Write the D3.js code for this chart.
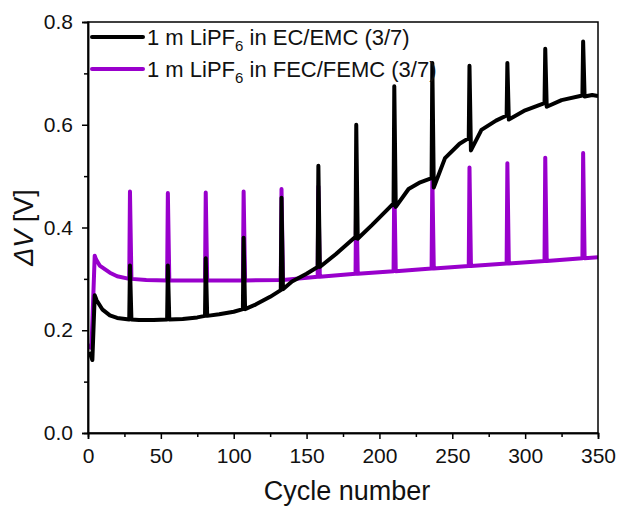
<!DOCTYPE html>
<html>
<head>
<meta charset="utf-8">
<script src="https://cdn.jsdelivr.net/npm/d3@7"></script>
<style>
  html, body { margin: 0; padding: 0; background: #fff; }
  svg { display: block; font-family: "Liberation Sans", Arial, sans-serif; }
</style>
</head>
<body>
<svg id="chart" width="620" height="508"></svg>
<script>
// ---- data ----
const seriesNames = ["1 m LiPF", "in EC/EMC (3/7)", "in FEC/FEMC (3/7)"];
const xTicks = [0, 50, 100, 150, 200, 250, 300, 350];
const yTicks = [0.0, 0.2, 0.4, 0.6, 0.8];

const blackCycles = [1, 3, 4.6, 6, 10, 15, 20, 28.3, 28.8, 29.8, 35, 45, 54.3, 54.8, 55.8, 65, 75, 80.3, 80.8, 81.8, 90, 100, 106.3, 106.8, 107.8, 115, 125, 132.3, 132.8, 133.8, 140, 150, 157.6, 158.1, 159.1, 170, 183.6, 184.1, 185.1, 195, 209.7, 210.2, 211.2, 220, 228, 235.8, 236.3, 237.3, 245, 255, 261.3, 261.8, 262.8, 270, 280, 287.3, 287.8, 288.8, 300, 313.3, 313.8, 314.8, 325, 339.3, 339.8, 340.8, 346, 350];
const blackValues = [0.158, 0.142, 0.268, 0.258, 0.24, 0.229, 0.224, 0.221, 0.326, 0.221, 0.22, 0.22, 0.221, 0.326, 0.221, 0.222, 0.225, 0.228, 0.34, 0.228, 0.231, 0.236, 0.241, 0.38, 0.241, 0.25, 0.265, 0.278, 0.458, 0.28, 0.295, 0.31, 0.323, 0.52, 0.323, 0.348, 0.382, 0.6, 0.378, 0.405, 0.447, 0.675, 0.44, 0.475, 0.488, 0.496, 0.72, 0.478, 0.535, 0.563, 0.574, 0.715, 0.55, 0.59, 0.608, 0.618, 0.72, 0.61, 0.628, 0.642, 0.748, 0.635, 0.648, 0.657, 0.762, 0.655, 0.658, 0.656];

const purpleCycles = [1, 2.5, 4.6, 5.5, 8, 15, 20, 28.3, 28.8, 29.8, 40, 54.3, 54.8, 55.8, 80.3, 80.8, 81.8, 106.3, 106.8, 107.8, 132.3, 132.8, 133.8, 157.6, 158.1, 159.1, 183.6, 184.1, 185.1, 209.7, 210.2, 211.2, 235.8, 236.3, 237.3, 261.3, 261.8, 262.8, 287.3, 287.8, 288.8, 313.3, 313.8, 314.8, 339.3, 339.8, 340.8, 350];
const purpleValues = [0.163, 0.175, 0.345, 0.338, 0.326, 0.312, 0.305, 0.3, 0.47, 0.3, 0.298, 0.297, 0.467, 0.297, 0.297, 0.468, 0.297, 0.297, 0.47, 0.297, 0.298, 0.475, 0.298, 0.304, 0.48, 0.304, 0.31, 0.48, 0.31, 0.315, 0.49, 0.315, 0.32, 0.5, 0.32, 0.325, 0.517, 0.325, 0.33, 0.525, 0.33, 0.335, 0.536, 0.335, 0.34, 0.545, 0.34, 0.342];

const colors = ["#000000", "#9900cc"];

// ---- layout ----
const svg = d3.select("#chart");
const margin = { left: 88, right: 22, top: 22, bottom: 75 };
const W = 620, H = 508;
const x = d3.scaleLinear().domain([0, 350]).range([margin.left, W - margin.right]);
const y = d3.scaleLinear().domain([0, 0.8]).range([H - margin.bottom, margin.top]);

// series
const line = d3.line().x(d => x(d[0])).y(d => y(d[1]));
const purple = purpleCycles.map((c, i) => [c, purpleValues[i]]);
const black = blackCycles.map((c, i) => [c, blackValues[i]]);

svg.append("clipPath").attr("id", "clip").append("rect")
  .attr("x", margin.left).attr("y", margin.top)
  .attr("width", x(350) - x(0)).attr("height", y(0) - y(0.8));

const g = svg.append("g").attr("clip-path", "url(#clip)");
g.append("path").datum(purple).attr("d", line)
  .attr("fill", "none").attr("stroke", colors[1]).attr("stroke-width", 4)
  .attr("stroke-linejoin", "round");
g.append("path").datum(black).attr("d", line)
  .attr("fill", "none").attr("stroke", colors[0]).attr("stroke-width", 4)
  .attr("stroke-linejoin", "round");

// frame
svg.append("rect").attr("x", x(0)).attr("y", y(0.8))
  .attr("width", x(350) - x(0)).attr("height", y(0) - y(0.8))
  .attr("fill", "none").attr("stroke", "#000").attr("stroke-width", 1.5);

// axes
const fontSize = 21;
const xAxis = d3.axisBottom(x).tickValues(xTicks).tickSize(6).tickPadding(9).tickFormat(d3.format("d"));
const xMinor = d3.axisBottom(x).tickValues(d3.range(25, 350, 50)).tickSize(4).tickFormat("");
const yAxis = d3.axisLeft(y).tickValues(yTicks).tickSize(6).tickPadding(9).tickFormat(d3.format(".1f"));
const yMinor = d3.axisLeft(y).tickValues([0.1, 0.3, 0.5, 0.7]).tickSize(4).tickFormat("");

function styleAxis(sel) {
  sel.select(".domain").attr("stroke-width", 1.5);
  sel.selectAll(".tick line").attr("stroke-width", 1.5);
  sel.selectAll("text").attr("font-size", fontSize).attr("font-family", "Liberation Sans, Arial, sans-serif").attr("fill", "#111");
}
svg.append("g").attr("transform", `translate(0,${y(0)})`).call(xAxis).call(styleAxis);
svg.append("g").attr("transform", `translate(0,${y(0)})`).call(xMinor).call(styleAxis);
svg.append("g").attr("transform", `translate(${x(0)},0)`).call(yAxis).call(styleAxis);
svg.append("g").attr("transform", `translate(${x(0)},0)`).call(yMinor).call(styleAxis);

// axis titles
svg.append("text").attr("x", (x(0) + x(350)) / 2 + 4).attr("y", 500)
  .attr("text-anchor", "middle").attr("font-size", 27).attr("fill", "#111")
  .text("Cycle number");

const yt = svg.append("text").attr("transform", `translate(33,${y(0.4)}) rotate(-90)`)
  .attr("text-anchor", "middle").attr("font-size", 27).attr("fill", "#111");
yt.append("tspan").attr("font-style", "italic").text("ΔV");
yt.append("tspan").text(" [V]");

// legend
const legendRows = [
  { color: colors[0], suffix: seriesNames[1], yy: 37 },
  { color: colors[1], suffix: seriesNames[2], yy: 69 }
];
legendRows.forEach(r => {
  svg.append("line").attr("x1", x(0) + 4).attr("x2", x(0) + 55)
    .attr("y1", r.yy).attr("y2", r.yy)
    .attr("stroke", r.color).attr("stroke-width", 4).attr("stroke-linecap", "round");
  const t = svg.append("text").attr("x", x(0) + 59).attr("y", r.yy + 8)
    .attr("font-size", 22).attr("fill", "#111");
  t.append("tspan").text(seriesNames[0]);
  t.append("tspan").attr("font-size", 15).attr("dy", 6).text("6");
  t.append("tspan").attr("dy", -6).text(" " + r.suffix);
});
</script>
</body>
</html>
